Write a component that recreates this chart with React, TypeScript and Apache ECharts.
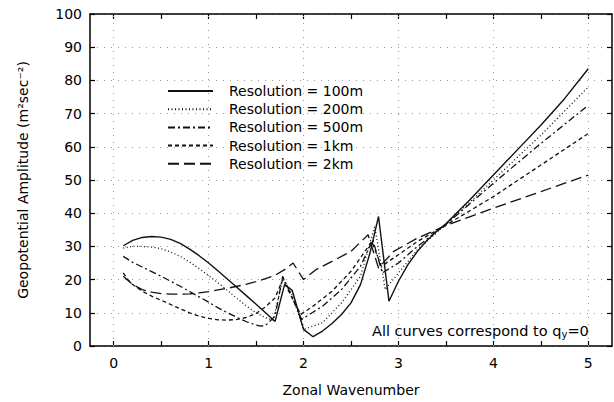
import { useEffect, useRef } from 'react';
import * as echarts from 'echarts';

const seriesNames = [
  'Resolution = 100m',
  'Resolution = 200m',
  'Resolution = 500m',
  'Resolution = 1km',
  'Resolution = 2km',
];

const x100 = [0.1, 0.2, 0.3, 0.4, 0.5, 0.6, 0.7, 0.8, 0.9, 1.0, 1.1, 1.2, 1.3, 1.4, 1.5, 1.6, 1.7, 1.8, 1.88, 2.0, 2.1, 2.2, 2.3, 2.4, 2.5, 2.6, 2.7, 2.79, 2.9, 3.0, 3.1, 3.2, 3.3, 3.4, 3.5, 3.75, 4.0, 4.25, 4.5, 4.75, 5.0];
const y100 = [30.2, 31.8, 32.7, 33.0, 32.8, 32.1, 30.9, 29.2, 27.2, 25.0, 22.6, 20.1, 17.6, 15.1, 12.6, 10.0, 7.4, 18.5, 16.8, 5.0, 2.8, 4.5, 6.8, 9.5, 13.0, 18.5, 28.0, 39.0, 13.5, 19.5, 24.5, 28.5, 31.8, 34.5, 36.8, 44.0, 51.5, 59.0, 66.5, 74.5, 83.5];

const x200 = [0.1, 0.2, 0.3, 0.4, 0.5, 0.6, 0.7, 0.8, 0.9, 1.0, 1.1, 1.2, 1.3, 1.4, 1.5, 1.6, 1.68, 1.78, 1.86, 2.0, 2.2, 2.4, 2.6, 2.75, 2.86, 3.0, 3.2, 3.5, 4.0, 4.5, 5.0];
const y200 = [29.5, 30.0, 30.0, 29.8, 29.3, 28.3, 27.0, 25.3, 23.3, 21.2, 19.0, 16.7, 14.3, 12.0, 10.0, 8.5, 7.8, 20.0, 17.0, 5.0, 7.0, 13.0, 21.0, 36.0, 17.0, 22.0, 29.0, 36.6, 50.0, 63.5, 78.0];

const x500 = [0.1, 0.2, 0.3, 0.4, 0.5, 0.6, 0.7, 0.8, 0.9, 1.0, 1.1, 1.2, 1.3, 1.4, 1.5, 1.55, 1.6, 1.7, 1.78, 1.86, 1.98, 2.2, 2.4, 2.6, 2.73, 2.83, 3.0, 3.2, 3.5, 4.0, 4.5, 5.0];
const y500 = [27.0, 25.2, 23.8, 22.4, 21.0, 19.5, 18.0, 16.4, 14.8, 13.2, 11.5, 10.0, 8.6, 7.3, 6.3, 6.0, 6.2, 9.0, 21.0, 16.0, 8.0, 12.0, 17.0, 24.0, 32.0, 22.0, 25.0, 30.0, 36.6, 49.0, 61.0, 72.5];

const x1k = [0.1, 0.15, 0.2, 0.3, 0.4, 0.5, 0.6, 0.7, 0.8, 0.9, 1.0, 1.1, 1.2, 1.3, 1.4, 1.5, 1.6, 1.7, 1.78, 1.97, 2.1, 2.3, 2.5, 2.72, 2.82, 3.0, 3.2, 3.5, 4.0, 4.5, 5.0];
const y1k = [22.0, 20.0, 18.5, 16.5, 15.0, 13.8, 12.5, 11.2, 10.0, 9.0, 8.3, 7.9, 7.8, 8.0, 8.6, 9.8, 11.8, 14.5, 20.0, 9.5, 12.0, 16.5, 22.5, 31.5, 24.0, 27.5, 31.5, 36.4, 45.0, 54.5, 64.0];

const x2k = [0.1, 0.2, 0.3, 0.4, 0.5, 0.6, 0.7, 0.8, 0.9, 1.0, 1.1, 1.2, 1.3, 1.4, 1.5, 1.6, 1.7, 1.8, 1.89, 2.0, 2.13, 2.3, 2.5, 2.68, 2.79, 2.95, 3.2, 3.5, 4.0, 4.5, 5.0];
const y2k = [21.0, 18.5, 17.0, 16.2, 15.8, 15.6, 15.6, 15.7, 16.0, 16.4, 16.9, 17.4, 18.0, 18.6, 19.4, 20.3, 21.3, 23.0, 25.0, 20.0, 23.0, 25.5, 28.5, 33.5, 23.5, 28.5, 32.5, 36.3, 41.5, 46.5, 51.5];

const xTickValues = [0, 0.5, 1, 1.5, 2, 2.5, 3, 3.5, 4, 4.5, 5];
const xLabelValues = [0, 1, 2, 3, 4, 5];

const seriesX = [x100, x200, x500, x1k, x2k];
const seriesY = [y100, y200, y500, y1k, y2k];
const dashes: any[] = ['solid', [1, 2.5], [7, 3, 2, 3], [4, 3], [11, 5]];

const FONT = 'DejaVu Sans';
const INK = '#000';

export default function App() {
  const ref = useRef<HTMLDivElement>(null);
  useEffect(() => {
    if (!ref.current) return;
    const chart = echarts.init(ref.current, undefined, { renderer: 'svg' });
    const gridDots = { color: '#999', width: 1, type: [1, 6] as any };
    const series: any[] = seriesNames.map((name, i) => ({
      name,
      type: 'line',
      xAxisIndex: 0,
      yAxisIndex: 0,
      symbol: 'none',
      showSymbol: false,
      z: 3,
      data: seriesX[i].map((x, j) => [x, seriesY[i][j]]),
      lineStyle: { color: '#111', width: i === 0 ? 1.4 : 1.3, type: dashes[i] },
      itemStyle: { color: '#111' },
    }));
    series[0].markLine = {
      silent: true,
      symbol: ['none', 'none'],
      label: { show: false },
      lineStyle: gridDots,
      emphasis: { disabled: true },
      z: 1,
      data: xLabelValues.map((v) => ({ xAxis: v })),
    };
    const axisLine = { show: true, onZero: false, lineStyle: { color: INK, width: 1.5 } };
    const tickStyle = { color: INK, width: 1.2 };
    chart.setOption({
      animation: false,
      backgroundColor: '#fff',
      grid: { left: 90, right: 2, top: 14, bottom: 55.5, containLabel: false },
      legend: {
        orient: 'vertical',
        left: 167,
        top: 84,
        padding: 0,
        itemWidth: 45,
        itemHeight: 14,
        itemGap: 4.2,
        data: seriesNames,
        itemStyle: { opacity: 0, color: 'transparent', borderColor: 'transparent', borderWidth: 0 },
        textStyle: { fontSize: 14, fontFamily: FONT, color: INK, lineHeight: 14, padding: [0, 0, 0, 11] },
      },
      xAxis: [
        {
          type: 'value',
          position: 'bottom',
          min: -0.25,
          max: 5.25,
          axisLine,
          axisTick: { show: true, inside: true, length: 5, customValues: xTickValues, lineStyle: tickStyle },
          axisLabel: { customValues: xLabelValues, fontSize: 14, fontFamily: FONT, color: INK, margin: 10 },
          splitLine: { show: false },
          name: 'Zonal Wavenumber',
          nameLocation: 'middle',
          nameGap: 37,
          nameTextStyle: { fontSize: 14, fontFamily: FONT, color: INK },
        },
        {
          type: 'value',
          position: 'top',
          min: -0.25,
          max: 5.25,
          axisLine,
          axisTick: { show: true, inside: true, length: 5, customValues: xTickValues, lineStyle: tickStyle },
          axisLabel: { show: false },
          splitLine: { show: false },
        },
      ],
      yAxis: [
        {
          type: 'value',
          position: 'left',
          min: 0,
          max: 100,
          interval: 10,
          axisLine,
          axisTick: { show: true, inside: true, length: 5, lineStyle: tickStyle },
          axisLabel: { fontSize: 14, fontFamily: FONT, color: INK, margin: 8 },
          splitLine: { show: true, lineStyle: gridDots },
          name: 'Geopotential Amplitude (m²sec⁻²)',
          nameLocation: 'middle',
          nameGap: 60,
          nameTextStyle: { fontSize: 14, fontFamily: FONT, color: INK },
        },
        {
          type: 'value',
          position: 'right',
          min: 0,
          max: 100,
          interval: 10,
          axisLine,
          axisTick: { show: true, inside: true, length: 5, lineStyle: tickStyle },
          axisLabel: { show: false },
          splitLine: { show: false },
        },
      ],
      graphic: [
        {
          type: 'text',
          left: 372,
          top: 323,
          style: {
            text: '{a|All curves correspond to q}{s|y}{a|=0}',
            rich: {
              a: { fontSize: 14.5, fontFamily: FONT, fill: INK },
              s: { fontSize: 10, fontFamily: FONT, fill: INK, padding: [8, 0, 0, 0] },
            },
          },
        },
      ],
      series,
    });
    return () => chart.dispose();
  }, []);
  return <div ref={ref} style={{ position: 'fixed', left: 0, top: 0, width: 614, height: 402 }} />;
}
